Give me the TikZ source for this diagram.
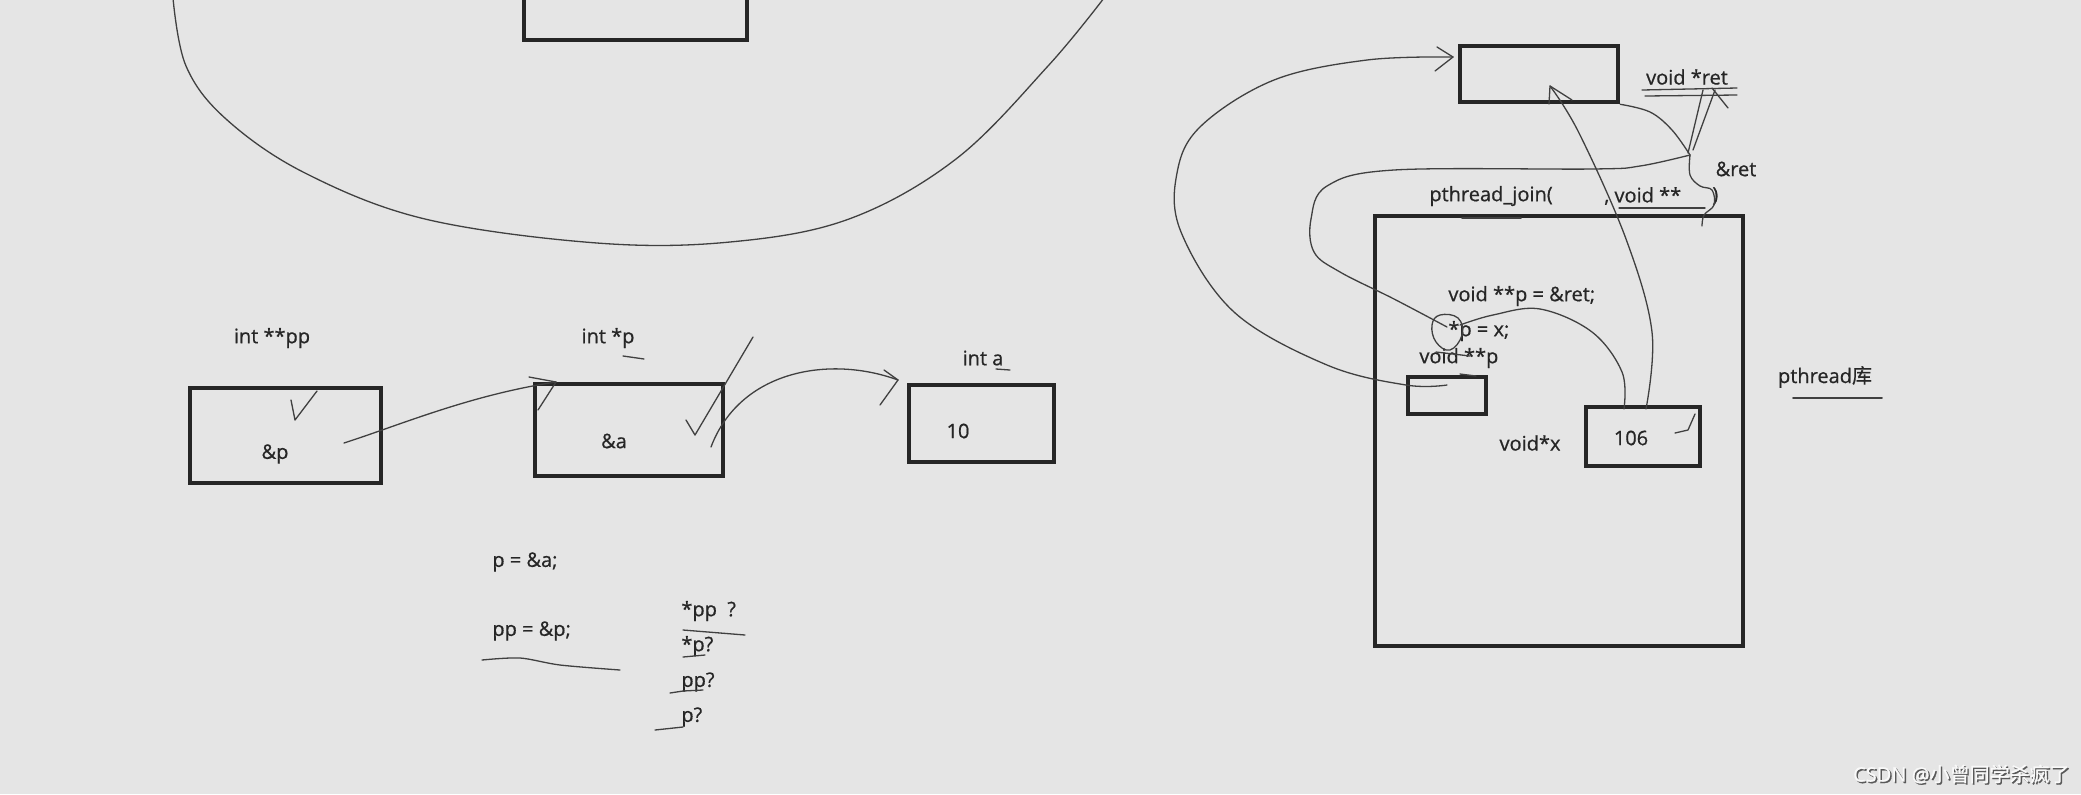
\documentclass[tikz,border=0pt]{standalone}
\usepackage{fontspec}
\setmainfont{Open Sans}[FakeBold=0.7]
\newfontfamily\cjk{Noto Sans CJK SC}[FakeBold=0.7]
\usetikzlibrary{arrows.meta}
\definecolor{bg}{HTML}{E5E5E5}
\definecolor{ink}{HTML}{262626}
\definecolor{penc}{HTML}{404040}
\begin{document}
\begin{tikzpicture}[x=0.5pt,y=-0.5pt,
  box/.style={draw=ink,line width=2.3pt,inner sep=0,minimum width=#1},
  lbl/.style={text=ink,font=\fontsize{10}{12}\selectfont,inner sep=0},
  hand/.style={draw=penc,line width=0.65pt,line cap=round,line join=round},
  thickpen/.style={draw=penc,line width=0.9pt,line cap=round}]
\fill[bg] (0,0) rectangle (2081,794);
\useasboundingbox (0,0) rectangle (2081,794);
% ---------- top-left region ----------
\node[box=111.5pt,minimum height=25pt] (topbox) at (635.5,15) {};
\draw[hand] plot[smooth,tension=0.6] coordinates {(173,-2) (186,66) (226,119) (305,173) (425,219) (597,243) (730,242) (849,219) (956,159) (1048,66) (1104,-2)};
% ---------- bottom-left region ----------
\node[box=95.5pt,minimum height=47.5pt] (ppbox) at (285.5,435.5) {};
\node[box=94pt,minimum height=46pt] (pbox) at (629,430) {};
\node[box=72.5pt,minimum height=38.5pt] (abox) at (981.5,423.5) {};
\node[lbl] (lpp) at (272,338) {int **pp};
\node[lbl] (lp) at (608,338) {int *p};
\node[lbl] (la) at (983,358) {int a};
\node[lbl] (vpp) at (275,454) {\&p};
\node[lbl] (vp) at (614,441) {\&a};
\node[lbl] (va) at (958,431) {10};
\node[lbl,anchor=west] (c1) at (492,562) {p = \&a;};
\node[lbl,anchor=west] (c2) at (492,631) {pp = \&p;};
\node[lbl,anchor=west] (q1) at (681,611) {*pp\ \ ?};
\node[lbl,anchor=west] (q2) at (681,646) {*p?};
\node[lbl,anchor=west] (q3) at (681,682) {pp?};
\node[lbl,anchor=west] (q4) at (681,717) {p?};
% pp -> p
\coordinate (ppout) at (344,443);
\coordinate (pin) at (556,382);
\draw[hand] (ppout) .. controls (400,425) and (470,395) .. (pin);
\draw[hand] (529,377) -- (pin) -- (538,410);
% p -> a
\coordinate (pout) at (711,447);
\coordinate (ain) at (898,380);
\draw[hand] (pout) .. controls (740,370) and (830,355) .. (ain);
\draw[hand] (884,370) -- (ain) -- (880,405);
% check marks
\draw[hand] (291,400) -- (295,420) -- (317,391);
\draw[hand] (686,420) -- (695,435) -- (753,337);
% underlines
\draw[hand] (623,356) -- (644,359);
\draw[hand] (996,369) -- (1010,370);
\draw[hand] plot[smooth] coordinates {(482,660) (520,658) (560,665) (620,670)};
\draw[hand] (683,630) -- (745,635);
\draw[hand] (683,657) -- (705,655);
\draw[hand] (670,693) -- (683,691) -- (703,690);
\draw[hand] (655,730) -- (683,727);
% ---------- right region ----------
\node[box=79pt,minimum height=28pt] (retbox) at (1539,74) {};
\node[box=184pt,minimum height=215pt] (lib) at (1559,431) {};
\node[box=39pt,minimum height=18.5pt] (pbox2) at (1447,395.5) {};
\node[box=57pt,minimum height=29.5pt] (xbox) at (1643,436.5) {};
\node[lbl] (lret) at (1687,77) {void *ret};
\node[lbl] (aret) at (1736,169) {\&ret};
\node[lbl,anchor=west] (pj) at (1429,196) {pthread\_join(};
\node[lbl,anchor=west] (pj2) at (1604,196) {, void **};
\node[lbl,anchor=west] (pj3) at (1712,196) {)};
\node[lbl,anchor=west] (s1) at (1448,296) {void **p = \&ret;};
\node[lbl,anchor=west] (s2) at (1448,331) {*p = x;};
\node[lbl,anchor=west] (s3) at (1419,358) {void **p};
\node[lbl] (lx) at (1530,443) {void*x};
\node[lbl] (v106) at (1631,438) {106};
\node[lbl] (plib) at (1825,377) {pthread{\cjk 库}};
\draw[thickpen] (1793,398) -- (1882,398);
% big arrow: void **p -> ret box
\coordinate (p2out) at (1447,385);
\coordinate (retin) at (1453,57);
\draw[hand] plot[smooth,tension=0.6] coordinates {(p2out) (1406,385) (1327,365) (1234,312) (1181,232) (1177,173) (1201,126) (1274,80) (1367,60) (retin)};
\draw[hand] (1437,47) -- (retin) -- (1435,71);
% 106 -> ret box
\coordinate (xout) at (1646,409);
\coordinate (retin2) at (1550,86);
\draw[hand] plot[smooth,tension=0.6] coordinates {(xout) (1652,332) (1626,239) (1579,133) (retin2)};
\draw[hand] (1549,104) -- (retin2) -- (1572,100);
% 106 -> *p
\coordinate (xout2) at (1624,409);
\coordinate (starp) at (1460,325);
\draw[hand] plot[smooth,tension=0.6] coordinates {(xout2) (1622,372) (1592,332) (1540,309) (1493,315) (starp)};
% &ret -> *p
\coordinate (cross) at (1690,155);
\draw[hand] plot[smooth,tension=0.6] coordinates {(cross) (1640,166) (1593,169) (1394,170) (1327,186) (1311,219) (1314,252) (1340,272) (1394,299) (1447,327)};
% ret box -> &ret
\draw[hand] plot[smooth,tension=0.6] coordinates {(retbox.south east) (1650,112) (1672,130) (cross)};
\draw[hand] (1703,90) -- (1688,153);
\draw[hand] (1715,90) -- (1693,150);
\draw[hand] (1712,88) -- (1728,108);
\draw[hand] plot[smooth,tension=0.6] coordinates {(cross) (1690,175) (1700,186) (1712,190) (1714,205) (1704,215) (1702,226)};
\draw[hand] (1642,90) -- (1737,88);
\draw[hand] (1645,96) -- (1737,95);
\draw[hand] (1619,208) -- (1705,208);
\draw[thickpen] (1462,218) -- (1521,218);
% scribble on *p
\draw[hand] plot[smooth cycle,tension=0.7] coordinates {(1440,315) (1458,318) (1462,335) (1450,350) (1436,342) (1432,325)};
\draw[hand] (1436,352) -- (1470,356);
\draw[hand] (1460,374) -- (1476,376);
\draw[hand] (1675,433) -- (1688,430) -- (1695,414);
% watermark
\node[anchor=east,inner sep=0,text=gray!70!black,font=\fontsize{10}{12}\selectfont] (wm0) at (2071.5,775.5) {CSDN @{\cjk 小曾同学杀疯了}};
\node[anchor=east,inner sep=0,text=white!95!gray,font=\fontsize{10}{12}\selectfont] (wm) at (2070,774) {CSDN @{\cjk 小曾同学杀疯了}};
\end{tikzpicture}
\end{document}
